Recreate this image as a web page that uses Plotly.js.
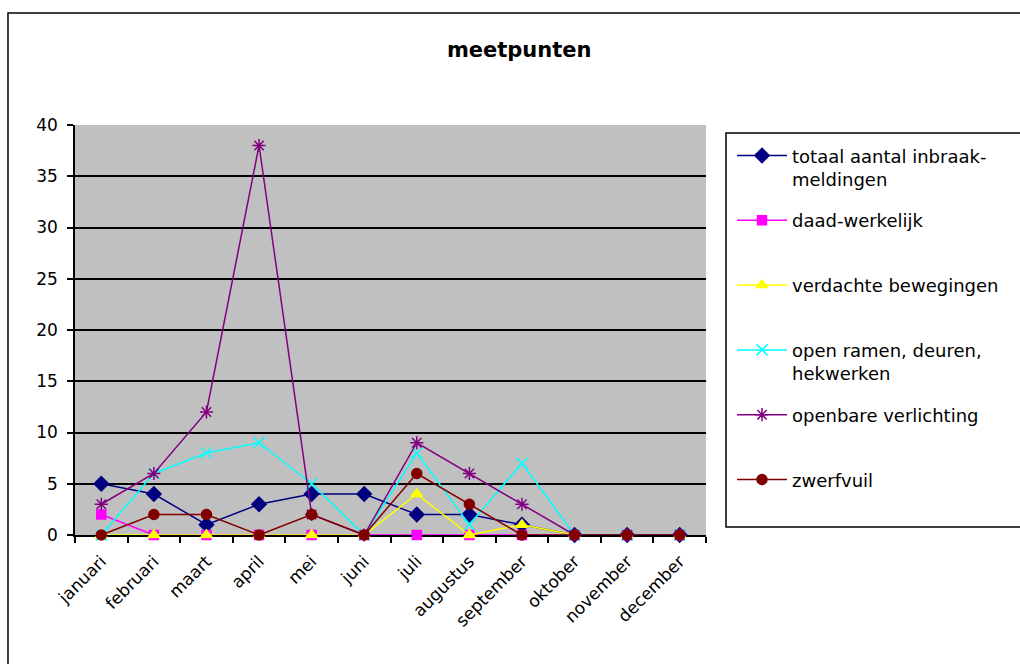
<!DOCTYPE html>
<html>
<head>
<meta charset="utf-8">
<script src="https://cdn.plot.ly/plotly-3.0.1.min.js"></script>
<style>html,body{margin:0;padding:0;background:#fff;}#chart{width:1020px;height:664px;}</style>
</head>
<body>
<div id="chart"></div>
<script>
const months = ['januari','februari','maart','april','mei','juni','juli','augustus','september','oktober','november','december'];
const totaal     = [5, 4, 1, 3, 4, 4, 2, 2, 1, 0, 0, 0];
const daad       = [2, 0, 0, 0, 0, 0, 0, 0, 0, 0, 0, 0];
const verdachte  = [0, 0, 0, 0, 0, 0, 4, 0, 1, 0, 0, 0];
const openRamen  = [0, 6, 8, 9, 5, 0, 8, 1, 7, 0, 0, 0];
const verlichting= [3, 6, 12, 38, 2, 0, 9, 6, 3, 0, 0, 0];
const zwerfvuil  = [0, 2, 2, 0, 2, 0, 6, 3, 0, 0, 0, 0];

const seriesNames = ['totaal aantal inbraak-<br>meldingen','daad-werkelijk<br>&nbsp;','verdachte bewegingen<br>&nbsp;','open ramen, deuren,<br>hekwerken','openbare verlichting<br>&nbsp;','zwerfvuil<br>&nbsp;'];
const seriesData = [totaal, daad, verdachte, openRamen, verlichting, zwerfvuil];
const colors = ['#000080','#FF00FF','#FFFF00','#00FFFF','#800080','#800000'];
const symbols = ['diamond','square','triangle-up','x-thin-open','asterisk-open','circle'];
const sizes = [11, 9, 10, 11, 11, 10];

const traces = seriesData.map((d, i) => ({
  type: 'scatter',
  mode: 'lines+markers',
  x: months,
  y: d,
  name: seriesNames[i],
  legendgroup: 'g' + i,
  cliponaxis: false,
  line: {color: colors[i], width: 1.5},
  marker: {color: colors[i], symbol: symbols[i], size: sizes[i], line: {color: colors[i], width: 1.5}}
}));

const font = 'DejaVu Sans, Verdana, sans-serif';
const layout = {
  width: 1020, height: 664,
  margin: {l: 75, r: 314, t: 125, b: 129},
  paper_bgcolor: '#ffffff',
  plot_bgcolor: '#C0C0C0',
  font: {family: font, size: 17, color: '#000'},
  title: {text: '<b>meetpunten</b>', x: 0.509, xanchor: 'center', y: 1 - 50/664, yanchor: 'middle', yref: 'container', font: {family: font, size: 21, color: '#000'}},
  showlegend: true,
  legend: {
    x: 1.0412, xanchor: 'left', y: 0.97, yanchor: 'top',
    bgcolor: 'rgba(0,0,0,0)', borderwidth: 0,
    font: {family: font, size: 18, color: '#000'},
    tracegroupgap: 15, traceorder: 'grouped', valign: 'top', itemwidth: 50
  },
  xaxis: {
    type: 'category', range: [-0.5, 11.5], autorange: false, layer: 'below traces',
    showgrid: false, showline: true, linecolor: '#000', linewidth: 1.5,
    ticks: 'outside', tickson: 'boundaries', ticklen: 6, tickcolor: '#000', tickwidth: 1.5,
    tickangle: -45, ticklabelstandoff: 8, tickfont: {family: font, size: 17, color: '#000'}, zeroline: false
  },
  yaxis: {
    range: [0, 40], autorange: false, dtick: 5, tick0: 0, showgrid: true, gridcolor: '#000', gridwidth: 1.5,
    showline: true, linecolor: '#000', linewidth: 1.5, zeroline: false, layer: 'below traces',
    ticks: 'outside', ticklen: 6, tickcolor: '#000', tickwidth: 1.5,
    ticklabelstandoff: 6, tickfont: {family: font, size: 17, color: '#000'}
  },
  shapes: [
    {type: 'rect', xref: 'paper', yref: 'paper', x0: -0.1062, x1: 1.52, y0: -0.36, y1: 1.2732, line: {color: '#000', width: 1.5}, fillcolor: 'rgba(0,0,0,0)', layer: 'below'},
    {type: 'rect', xref: 'paper', yref: 'paper', x0: 1.0317, x1: 1.52, y0: 0.0195, y1: 0.9805, line: {color: '#000', width: 1.5}, fillcolor: 'rgba(0,0,0,0)'}
  ]
};

Plotly.newPlot('chart', traces, layout, {displayModeBar: false, responsive: false});
</script>
</body>
</html>
